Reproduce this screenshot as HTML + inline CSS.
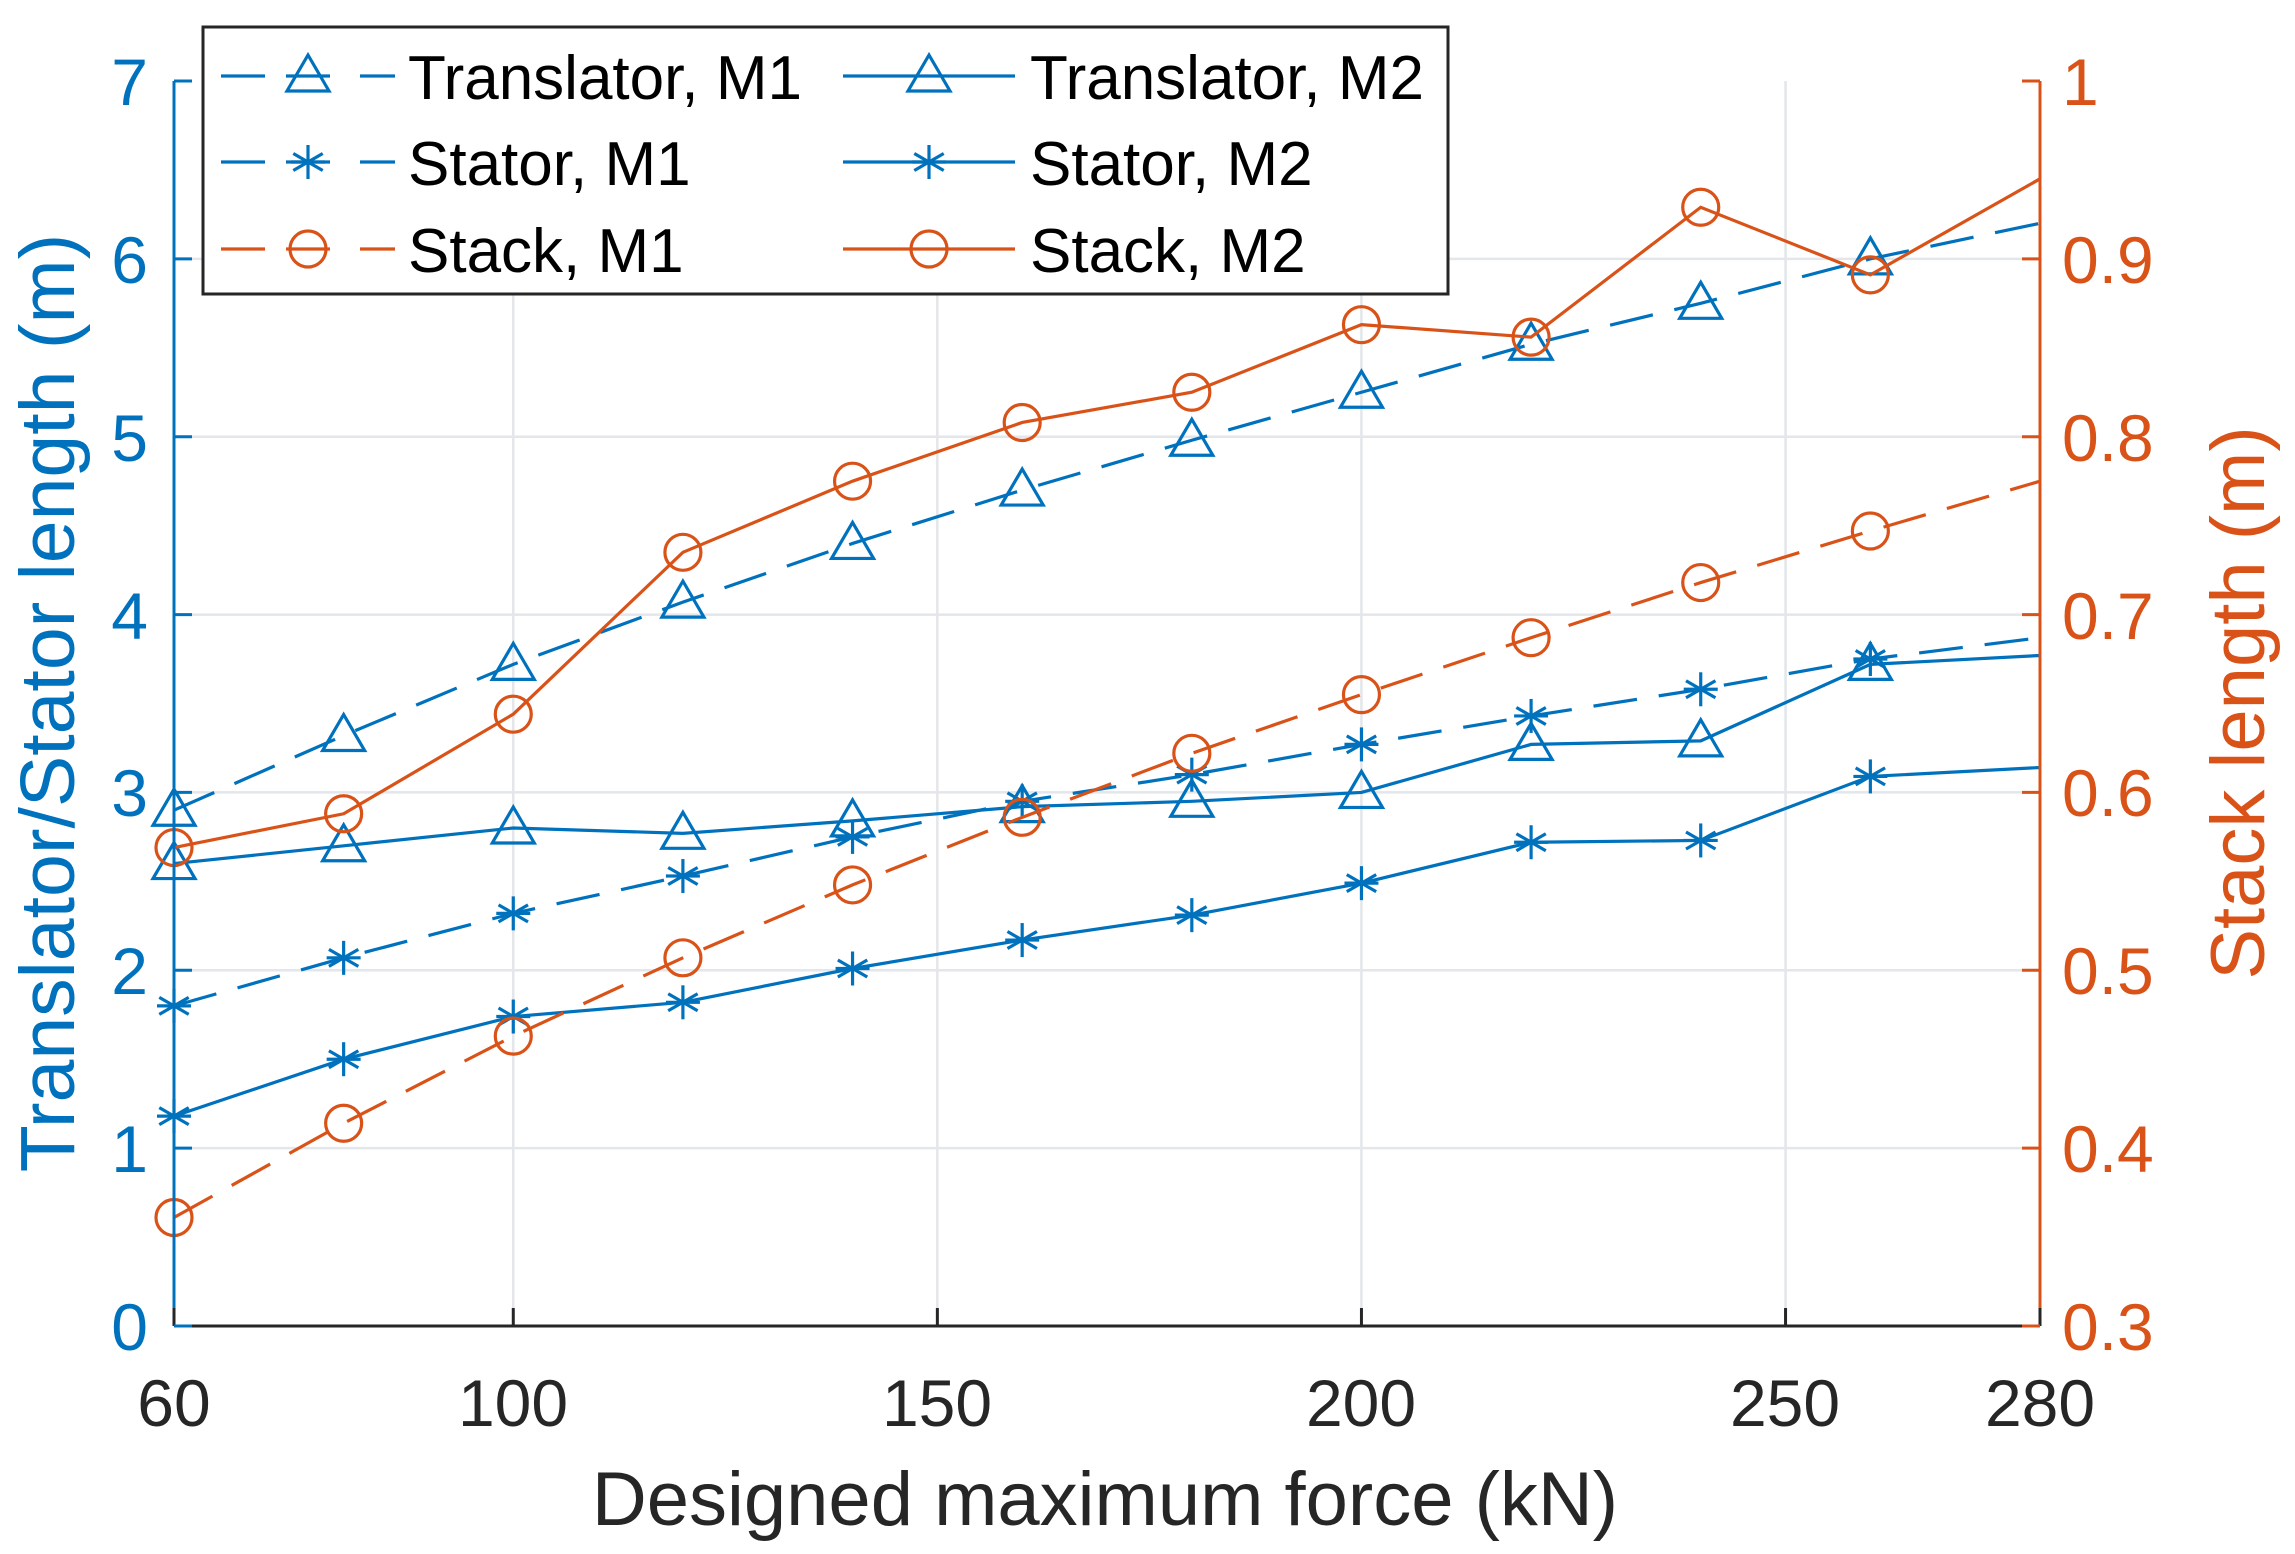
<!DOCTYPE html>
<html><head><meta charset="utf-8"><style>
html,body{margin:0;padding:0;background:#fff;}
svg text{font-family:"Liberation Sans",sans-serif;}
</style></head><body>
<svg id="s" width="2295" height="1549" viewBox="0 0 2295 1549" xmlns="http://www.w3.org/2000/svg">
<rect width="2295" height="1549" fill="#fff"/>
<g id="grid" stroke="#e3e6ea" stroke-width="2.5"></g>
<g id="series"></g>
<line x1="174" y1="1326" x2="2040" y2="1326" stroke="#262626" stroke-width="3"/>
<line x1="174" y1="81" x2="174" y2="1326" stroke="#0072BD" stroke-width="3"/>
<line x1="2040" y1="81" x2="2040" y2="1326" stroke="#D95319" stroke-width="3"/>
<g id="ticks"></g>
<g font-size="66" fill="#262626" text-anchor="middle">
<text x="174" y="1426">60</text><text x="513" y="1426">100</text><text x="937" y="1426">150</text>
<text x="1361" y="1426">200</text><text x="1785" y="1426">250</text><text x="2040" y="1426">280</text>
</g>
<g font-size="66" fill="#0072BD" text-anchor="end">
<text x="148" y="1350">0</text><text x="148" y="1172">1</text><text x="148" y="994">2</text>
<text x="148" y="816">3</text><text x="148" y="639">4</text><text x="148" y="461">5</text>
<text x="148" y="283">6</text><text x="148" y="105">7</text>
</g>
<g font-size="66" fill="#D95319" text-anchor="start">
<text x="2062" y="1350">0.3</text><text x="2062" y="1172">0.4</text><text x="2062" y="994">0.5</text>
<text x="2062" y="816">0.6</text><text x="2062" y="639">0.7</text><text x="2062" y="461">0.8</text>
<text x="2062" y="283">0.9</text><text x="2062" y="105">1</text>
</g>
<text x="1105" y="1525" font-size="76" fill="#262626" text-anchor="middle">Designed maximum force (kN)</text>
<text transform="translate(74,703) rotate(-90)" font-size="77" fill="#0072BD" text-anchor="middle">Translator/Stator length (m)</text>
<text transform="translate(2264,703) rotate(-90)" font-size="76" fill="#D95319" text-anchor="middle">Stack length (m)</text>
<rect x="203" y="27" width="1245" height="267" fill="#fff" stroke="#262626" stroke-width="3"/>
<g id="leg"></g>
<g font-size="62" fill="#000">
<text x="408" y="99">Translator, M1</text><text x="1030" y="99">Translator, M2</text>
<text x="408" y="185">Stator, M1</text><text x="1030" y="185">Stator, M2</text>
<text x="408" y="272">Stack, M1</text><text x="1030" y="272">Stack, M2</text>
</g>
</svg>
<script>
const NS="http://www.w3.org/2000/svg";
function el(p,t,a){const e=document.createElementNS(NS,t);for(const k in a)e.setAttribute(k,a[k]);p.appendChild(e);return e;}
const X=v=>174+(v-60)*1866/220, YL=v=>1326-v*1245/7, YR=v=>1326-(v-0.3)*1245/0.7;
const g=document.getElementById('grid');
[100,150,200,250].forEach(v=>el(g,'line',{x1:X(v),x2:X(v),y1:81,y2:1326}));
[1,2,3,4,5,6].forEach(v=>el(g,'line',{x1:174,x2:2040,y1:YL(v),y2:YL(v)}));
const tk=document.getElementById('ticks');
[60,100,150,200,250,280].forEach(v=>el(tk,'line',{x1:X(v),x2:X(v),y1:1326,y2:1308,stroke:'#262626','stroke-width':3}));
for(let v=0;v<=7;v++){el(tk,'line',{x1:174,x2:192,y1:YL(v),y2:YL(v),stroke:'#0072BD','stroke-width':3});}
for(let i=0;i<=7;i++){const v=0.3+i*0.1;el(tk,'line',{x1:2040,x2:2022,y1:YR(v),y2:YR(v),stroke:'#D95319','stroke-width':3});}
const xs=[60,80,100,120,140,160,180,200,220,240,260,280];
const B='#0072BD',O='#D95319';
const S=[
 {d:[2.9,3.32,3.72,4.07,4.4,4.7,4.98,5.25,5.52,5.75,6.0,6.2],y:YL,c:B,dash:true,m:'tri'},
 {d:[2.6,2.7,2.8,2.77,2.84,2.92,2.95,3.0,3.27,3.29,3.72,3.77],y:YL,c:B,dash:false,m:'tri'},
 {d:[1.8,2.07,2.32,2.53,2.75,2.95,3.1,3.27,3.43,3.58,3.75,3.87],y:YL,c:B,dash:true,m:'star'},
 {d:[1.18,1.5,1.74,1.82,2.01,2.17,2.31,2.49,2.72,2.73,3.09,3.14],y:YL,c:B,dash:false,m:'star'},
 {d:[0.361,0.414,0.463,0.507,0.548,0.586,0.622,0.655,0.687,0.718,0.747,0.775],y:YR,c:O,dash:true,m:'circ'},
 {d:[0.569,0.588,0.644,0.735,0.775,0.808,0.825,0.863,0.856,0.929,0.891,0.945],y:YR,c:O,dash:false,m:'circ'}
];
function marker(p,m,x,y,c){
 if(m==='tri'){el(p,'polygon',{points:`${x},${y-21} ${x-21},${y+15} ${x+21},${y+15}`,fill:'none',stroke:c,'stroke-width':3.2});}
 else if(m==='circ'){el(p,'circle',{cx:x,cy:y,r:18,fill:'none',stroke:c,'stroke-width':3.2});}
 else{const r=17;for(let a=0;a<180;a+=60){const t=(a+90)*Math.PI/180;el(p,'line',{x1:x-r*Math.cos(t),y1:y-r*Math.sin(t),x2:x+r*Math.cos(t),y2:y+r*Math.sin(t),stroke:c,'stroke-width':3.2});}
  el(p,'line',{x1:x-r,y1:y,x2:x+r,y2:y,stroke:c,'stroke-width':3.2});}
}
const sg=document.getElementById('series');
S.forEach(s=>{
 const pts=xs.map((v,i)=>X(v)+','+s.y(s.d[i])).join(' ');
 const a={points:pts,fill:'none',stroke:s.c,'stroke-width':3.2};
 if(s.dash)a['stroke-dasharray']='44,22';
 el(sg,'polyline',a);
 xs.forEach((v,i)=>{if(v<280)marker(sg,s.m,X(v),s.y(s.d[i]),s.c);});
});
const lg=document.getElementById('leg');
const rows=[76,162,249];
[[0,'tri'],[1,'star'],[2,'circ']].forEach(([r,m],k)=>{
 const y=rows[r],c=k<2?B:O;
 el(lg,'line',{x1:221,x2:265,y1:y,y2:y,stroke:c,'stroke-width':3.2});
 el(lg,'line',{x1:286,x2:330,y1:y,y2:y,stroke:c,'stroke-width':3.2});
 el(lg,'line',{x1:360,x2:395,y1:y,y2:y,stroke:c,'stroke-width':3.2});
 marker(lg,m,308,y,c);
 el(lg,'line',{x1:843,x2:1015,y1:y,y2:y,stroke:c,'stroke-width':3.2});
 marker(lg,m,929,y,c);
});
</script>
</body></html>
